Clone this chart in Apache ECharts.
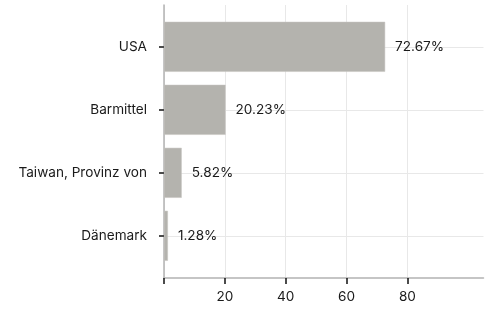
<!DOCTYPE html>
<html>
<head>
<meta charset="utf-8">
<script src="https://cdn.jsdelivr.net/npm/echarts@6/dist/echarts.min.js"></script>
<style>
  html, body { margin: 0; padding: 0; background: #fff; }
  #chart { width: 493px; height: 312px; }
</style>
</head>
<body>
<div id="chart"></div>
<script>
const categories = ['USA', 'Barmittel', 'Taiwan, Provinz von', 'Dänemark']
const shares = [72.67, 20.23, 5.82, 1.28]
const xTicks = [0, 20, 40, 60, 80]
const xLabels = [20, 40, 60, 80]

const font = 'Inter'
const fontSize = 13.6
const chart = echarts.init(document.getElementById('chart'))

const option = {
  animation: false,
  textStyle: { fontFamily: font },
  grid: [
    // outer frame: axis lines, vertical grid lines, x labels
    { left: 164, right: 9.5, top: 5, bottom: 34 },
    // bars: categories sit on the grid edges
    { left: 164, right: 9.5, top: 46.8, bottom: 76.2 },
  ],
  xAxis: [
    {
      gridIndex: 0,
      type: 'value',
      min: 0,
      max: 105,
      interval: 20,
      axisLine: { show: true, lineStyle: { color: '#b3b3b3', width: 1.5 } },
      axisTick: {
        show: true,
        customValues: xTicks,
        length: 6,
        lineStyle: { color: '#111', width: 1.5 },
      },
      axisLabel: {
        customValues: xLabels,
        margin: 12,
        color: '#1a1a1a',
        fontSize: fontSize,
        fontFamily: font,
      },
      splitLine: { show: true, lineStyle: { color: '#e8e8e8', width: 1 } },
    },
    {
      gridIndex: 1,
      type: 'value',
      min: 0,
      max: 105,
      show: false,
      splitLine: { show: false },
    },
  ],
  yAxis: [
    {
      gridIndex: 0,
      type: 'value',
      min: 0,
      max: 1,
      axisLine: { show: true, lineStyle: { color: '#b3b3b3', width: 1.5 } },
      axisTick: { show: false },
      axisLabel: { show: false },
      splitLine: { show: false },
    },
    {
      gridIndex: 1,
      type: 'category',
      data: categories,
      inverse: true,
      boundaryGap: false,
      axisLine: { show: false },
      axisTick: { show: true, length: 5, lineStyle: { color: '#111', width: 1.5 } },
      axisLabel: { margin: 17, color: '#1a1a1a', fontSize: fontSize, fontFamily: font },
      splitLine: { show: true, lineStyle: { color: '#e8e8e8', width: 1 } },
    },
  ],
  series: [
    {
      type: 'bar',
      xAxisIndex: 1,
      yAxisIndex: 1,
      data: shares,
      barWidth: 50,
      clip: false,
      itemStyle: { color: '#b4b3ae', borderColor: '#c6c5c1', borderWidth: 0.5 },
      label: {
        show: true,
        position: 'right',
        distance: 10,
        color: '#1a1a1a',
        fontSize: fontSize,
        fontFamily: font,
        formatter: function (p) {
          return p.value.toFixed(2) + '%'
        },
      },
    },
  ],
}
chart.setOption(option)
</script>
</body>
</html>
